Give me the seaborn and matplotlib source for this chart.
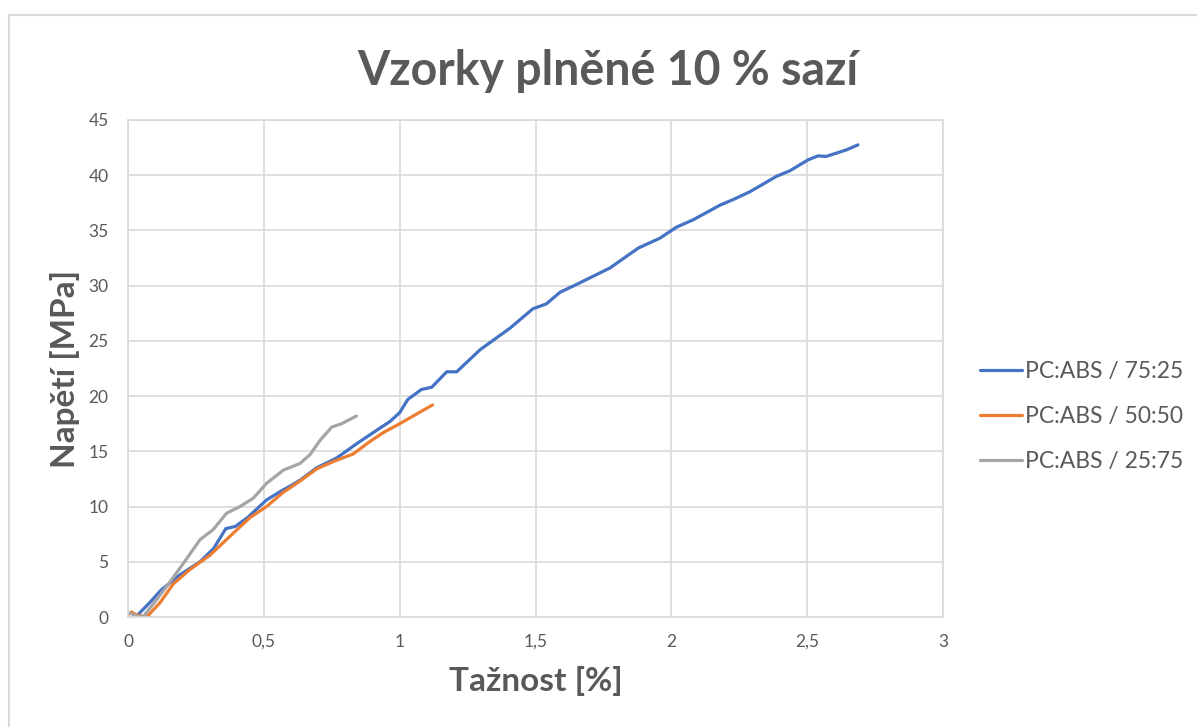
import numpy as np
import pandas as pd
import matplotlib
matplotlib.use("Agg")
import matplotlib.pyplot as plt
from matplotlib.patches import Rectangle
from matplotlib.ticker import FuncFormatter
import seaborn as sns

# Stress-strain curves of PC:ABS blends filled with 10 % carbon black
series_names = ["PC:ABS / 75:25", "PC:ABS / 50:50", "PC:ABS / 25:75"]

strain_75_25 = [0.03, 0.044, 0.08, 0.12, 0.19, 0.265, 0.315, 0.36, 0.395, 0.44,
                0.51, 0.56, 0.6, 0.634, 0.694, 0.768, 0.854, 0.964, 1.0, 1.03,
                1.08, 1.118, 1.173, 1.21, 1.296, 1.406, 1.49, 1.54, 1.59, 1.65,
                1.774, 1.878, 1.958, 2.019, 2.08, 2.18, 2.228, 2.289, 2.387, 2.436,
                2.504, 2.54, 2.57, 2.645, 2.687]
stress_75_25 = [0.0, 0.4, 1.3, 2.4, 3.8, 5.0, 6.2, 8.0, 8.2, 9.0,
                10.6, 11.35, 11.9, 12.4, 13.5, 14.4, 15.9, 17.7, 18.5, 19.7,
                20.6, 20.8, 22.2, 22.2, 24.2, 26.15, 27.9, 28.35, 29.4, 30.1,
                31.6, 33.4, 34.3, 35.3, 35.96, 37.3, 37.8, 38.5, 39.9, 40.4,
                41.4, 41.75, 41.7, 42.3, 42.75]

strain_50_50 = [0.0, 0.013, 0.03, 0.069, 0.118, 0.167, 0.228, 0.302, 0.375, 0.449,
                0.51, 0.572, 0.633, 0.694, 0.755, 0.829, 0.891, 0.94, 1.0, 1.121]
stress_50_50 = [0.2, 0.45, 0.2, 0.0, 1.3, 3.0, 4.3, 5.6, 7.3, 9.0,
                10.0, 11.3, 12.3, 13.4, 14.07, 14.76, 15.9, 16.7, 17.5, 19.2]

strain_25_75 = [0.0, 0.007, 0.03, 0.055, 0.1, 0.142, 0.204, 0.265, 0.313, 0.363,
                0.412, 0.461, 0.51, 0.572, 0.633, 0.67, 0.707, 0.75, 0.786, 0.841]
stress_25_75 = [0.3, 0.36, 0.1, 0.0, 1.4, 2.75, 4.86, 7.0, 7.9, 9.4,
                10.0, 10.75, 12.1, 13.3, 13.9, 14.7, 16.0, 17.2, 17.5, 18.2]

x_ticks = [0, 0.5, 1, 1.5, 2, 2.5, 3]
y_ticks = [0, 5, 10, 15, 20, 25, 30, 35, 40, 45]

colors = ["#4472C4", "#ED7D31", "#A5A5A5"]

frames = []
for name, xs, ys in zip(series_names,
                        [strain_75_25, strain_50_50, strain_25_75],
                        [stress_75_25, stress_50_50, stress_25_75]):
    frames.append(pd.DataFrame({"strain": xs, "stress": ys, "series": name}))
df = pd.concat(frames, ignore_index=True)

sns.set_theme(style="white")
plt.rcParams["font.family"] = ["Lato", "DejaVu Sans"]

fig = plt.figure(figsize=(11.97, 7.27), dpi=100)
ax = fig.add_axes([128 / 1197, 1 - 617 / 727, (943 - 128) / 1197, (617 - 120) / 727])

sns.lineplot(data=df, x="strain", y="stress", hue="series", hue_order=series_names,
             palette=colors, sort=False, estimator=None, linewidth=2.3, ax=ax,
             solid_joinstyle="round", solid_capstyle="round")

ax.set_xlim(0, 3)
ax.set_ylim(0, 45)
ax.set_xticks(x_ticks)
ax.set_yticks(y_ticks)
fmt = FuncFormatter(lambda v, p: ("%g" % v).replace(".", ","))
ax.xaxis.set_major_formatter(fmt)
ax.grid(True, color="#D9D9D9", linewidth=1.2)
ax.set_axisbelow(True)
for s in ax.spines.values():
    s.set_color("#D9D9D9")
    s.set_linewidth(1.2)
ax.tick_params(axis="both", length=0, labelsize=12.5, colors="#595959")
ax.tick_params(axis="x", pad=12)
ax.tick_params(axis="y", pad=14)

ax.set_xlabel("Tažnost [%]", fontsize=24, fontweight="bold", color="#595959", labelpad=12)
ax.set_ylabel("Napětí [MPa]", fontsize=24, fontweight="bold", color="#595959")
ax.yaxis.set_label_coords(-0.059, 0.5)

fig.text(608 / 1197, 1 - 71 / 727, "Vzorky plněné 10 % sazí", ha="center", va="center",
         fontsize=33.5, fontweight="bold", color="#595959")

leg = ax.legend(loc="center left", bbox_to_anchor=(1.045, 0.404), frameon=False,
                fontsize=16.5, labelcolor="#595959", handlelength=1.83,
                handletextpad=0.15, labelspacing=1.04, borderpad=0, borderaxespad=0)
for line in leg.get_lines():
    line.set_linewidth(2.3)

# chart area border
fig.patches.append(Rectangle((9 / 1197, -0.05), 1.1, 1 - 15 / 727 + 0.05,
                             transform=fig.transFigure, fill=False,
                             edgecolor="#D9D9D9", linewidth=1.5))

fig.savefig("out.png", dpi=100)
